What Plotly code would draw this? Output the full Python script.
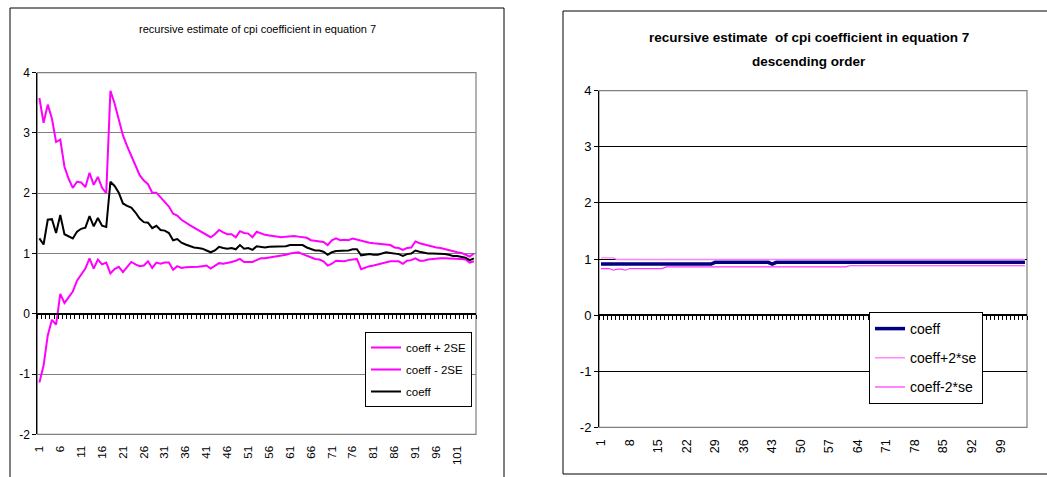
import plotly.graph_objects as go

W, H = 1047, 477

# ---------------- data ----------------
periods = list(range(1, 106))

left_upper = [
    3.58, 3.17, 3.47, 3.24, 2.85, 2.89, 2.44, 2.24, 2.09, 2.19,
    2.18, 2.10, 2.34, 2.14, 2.27, 2.09, 2.00, 3.70, 3.49, 3.21,
    2.96, 2.78, 2.63, 2.46, 2.30, 2.21, 2.15, 2.01, 2.01, 1.93,
    1.85, 1.78, 1.66, 1.63, 1.56, 1.51, 1.47, 1.43, 1.39, 1.35,
    1.32, 1.27, 1.32, 1.39, 1.35, 1.32, 1.32, 1.27, 1.37, 1.34,
    1.33, 1.27, 1.36, 1.33, 1.31, 1.30, 1.29, 1.28, 1.27, 1.28,
    1.29, 1.29, 1.28, 1.27, 1.26, 1.22, 1.21, 1.20, 1.19, 1.14,
    1.22, 1.25, 1.22, 1.23, 1.22, 1.25, 1.23, 1.21, 1.20, 1.18,
    1.17, 1.16, 1.15, 1.15, 1.14, 1.10, 1.09, 1.06, 1.09, 1.10,
    1.20, 1.17, 1.15, 1.14, 1.12, 1.10, 1.09, 1.07, 1.05, 1.03,
    1.02, 1.01, 0.98, 0.95, 1.00,
]

left_lower = [
    -1.14, -0.86, -0.36, -0.10, -0.18, 0.33, 0.18, 0.28, 0.37, 0.55,
    0.65, 0.75, 0.92, 0.75, 0.90, 0.82, 0.85, 0.67, 0.74, 0.78,
    0.69, 0.78, 0.86, 0.82, 0.79, 0.80, 0.87, 0.76, 0.85, 0.83,
    0.85, 0.85, 0.73, 0.79, 0.76, 0.77, 0.77, 0.78, 0.78, 0.79,
    0.80, 0.75, 0.79, 0.84, 0.83, 0.84, 0.86, 0.88, 0.91, 0.86,
    0.86, 0.86, 0.89, 0.92, 0.92, 0.93, 0.95, 0.96, 0.97, 0.98,
    1.00, 1.01, 1.02, 0.99, 0.96, 0.93, 0.91, 0.90, 0.87, 0.80,
    0.83, 0.88, 0.87, 0.87, 0.89, 0.90, 0.91, 0.74, 0.77, 0.79,
    0.80, 0.82, 0.84, 0.86, 0.87, 0.87, 0.87, 0.83, 0.88, 0.89,
    0.92, 0.88, 0.88, 0.90, 0.91, 0.91, 0.92, 0.92, 0.92, 0.92,
    0.91, 0.91, 0.90, 0.85, 0.87,
]

left_coeff = [
    1.25, 1.15, 1.56, 1.57, 1.34, 1.64, 1.32, 1.28, 1.25, 1.36,
    1.41, 1.43, 1.62, 1.45, 1.59, 1.46, 1.44, 2.19, 2.12, 2.01,
    1.83, 1.79, 1.76, 1.68, 1.58, 1.52, 1.51, 1.42, 1.46, 1.39,
    1.38, 1.34, 1.22, 1.24, 1.18, 1.15, 1.12, 1.10, 1.09, 1.08,
    1.05, 1.02, 1.05, 1.11, 1.09, 1.08, 1.09, 1.07, 1.14, 1.08,
    1.09, 1.06, 1.12, 1.11, 1.10, 1.11, 1.11, 1.12, 1.12, 1.12,
    1.14, 1.14, 1.14, 1.14, 1.10, 1.07, 1.05, 1.05, 1.03, 0.98,
    1.02, 1.04, 1.04, 1.04, 1.05, 1.07, 1.07, 0.97, 0.98, 0.99,
    0.98, 0.98, 1.00, 1.02, 1.01, 1.00, 0.99, 0.96, 0.99, 1.00,
    1.05, 1.03, 1.01, 1.00, 1.00, 1.00, 1.00, 0.99, 0.98, 0.96,
    0.96, 0.95, 0.93, 0.89, 0.92,
]

right_coeff = [
    0.91, 0.91, 0.91, 0.91, 0.91, 0.91, 0.91, 0.91, 0.91, 0.91,
    0.91, 0.91, 0.91, 0.91, 0.91, 0.91, 0.91, 0.91, 0.91, 0.91,
    0.91, 0.91, 0.91, 0.91, 0.91, 0.91, 0.91, 0.91, 0.94, 0.94,
    0.94, 0.94, 0.94, 0.94, 0.94, 0.94, 0.94, 0.94, 0.94, 0.94,
    0.94, 0.94, 0.91, 0.94, 0.94, 0.94, 0.94, 0.94, 0.94, 0.94,
    0.94, 0.94, 0.94, 0.94, 0.94, 0.94, 0.94, 0.94, 0.94, 0.94,
    0.94, 0.94, 0.94, 0.94, 0.94, 0.94, 0.94, 0.94, 0.94, 0.94,
    0.94, 0.94, 0.94, 0.94, 0.94, 0.94, 0.94, 0.94, 0.94, 0.94,
    0.94, 0.94, 0.94, 0.94, 0.94, 0.94, 0.94, 0.94, 0.94, 0.94,
    0.94, 0.94, 0.94, 0.94, 0.94, 0.94, 0.94, 0.94, 0.94, 0.94,
    0.94, 0.94, 0.94, 0.94, 0.94,
]

right_upper = [
    1.02, 1.02, 1.02, 1.02, 0.99, 0.99, 0.99, 0.99, 0.99, 0.99,
    0.99, 0.99, 0.99, 0.99, 0.99, 0.99, 0.99, 0.99, 0.99, 0.99,
    0.99, 0.99, 0.99, 0.99, 0.99, 0.99, 0.99, 0.99, 0.99, 0.99,
    0.99, 0.99, 0.99, 0.99, 0.99, 0.99, 0.99, 0.99, 0.99, 0.99,
    0.99, 0.99, 0.99, 0.99, 0.99, 0.99, 0.99, 0.99, 0.99, 0.99,
    0.99, 0.99, 0.99, 0.99, 0.99, 0.99, 0.99, 0.99, 0.99, 0.99,
    0.99, 0.99, 0.99, 0.99, 0.99, 0.99, 0.99, 0.99, 0.99, 0.99,
    0.99, 0.99, 0.99, 0.99, 0.99, 0.99, 0.99, 0.99, 0.99, 0.99,
    0.99, 0.99, 0.99, 0.99, 0.99, 0.99, 0.99, 0.99, 0.99, 0.99,
    0.99, 0.99, 0.99, 0.99, 0.99, 0.99, 0.99, 0.99, 0.99, 0.99,
    0.99, 0.99, 0.99, 0.99, 0.99,
]

right_lower = [
    0.83, 0.83, 0.83, 0.80, 0.82, 0.82, 0.80, 0.83, 0.83, 0.83,
    0.83, 0.83, 0.83, 0.83, 0.83, 0.83, 0.86, 0.86, 0.86, 0.86,
    0.86, 0.86, 0.86, 0.86, 0.86, 0.86, 0.86, 0.86, 0.86, 0.86,
    0.86, 0.86, 0.86, 0.86, 0.86, 0.86, 0.86, 0.86, 0.86, 0.86,
    0.86, 0.86, 0.86, 0.86, 0.86, 0.86, 0.86, 0.86, 0.86, 0.86,
    0.86, 0.86, 0.86, 0.86, 0.86, 0.86, 0.86, 0.86, 0.86, 0.86,
    0.86, 0.88, 0.88, 0.88, 0.88, 0.88, 0.88, 0.88, 0.88, 0.88,
    0.88, 0.88, 0.88, 0.88, 0.88, 0.88, 0.88, 0.88, 0.88, 0.88,
    0.88, 0.88, 0.88, 0.88, 0.88, 0.88, 0.88, 0.88, 0.88, 0.88,
    0.88, 0.88, 0.88, 0.88, 0.88, 0.88, 0.88, 0.88, 0.88, 0.88,
    0.88, 0.88, 0.88, 0.88, 0.88,
]

left_tick_labels = [1, 6, 11, 16, 21, 26, 31, 36, 41, 46, 51, 56, 61, 66, 71, 76, 81, 86, 91, 96, 101]
right_tick_labels = [1, 8, 15, 22, 29, 36, 43, 50, 57, 64, 71, 78, 85, 92, 99]
y_ticks = [-2, -1, 0, 1, 2, 3, 4]

left_title = "recursive estimate of cpi coefficient in equation 7"
right_title_1 = "recursive estimate  of cpi coefficient in equation 7"
right_title_2 = "descending order"

# ---------------- layout geometry ----------------
FONT = "Liberation Sans, Arial, sans-serif"

def px_x(p):
    return p / W

def px_y(p):
    return 1 - p / H

L_dom_x = [px_x(37.3), px_x(476)]
L_dom_y = [px_y(434.3), px_y(72.7)]
R_dom_x = [px_x(599), px_x(1027)]
R_dom_y = [px_y(427.3), px_y(90.7)]

YR = [-2, 4]
XR = [0.5, len(periods) + 0.5]

def zero_pos(dom):
    return dom[0] + (0 - YR[0]) / (YR[1] - YR[0]) * (dom[1] - dom[0])

fig = go.Figure()

# left chart traces
fig.add_trace(go.Scatter(x=periods, y=left_upper, mode="lines", name="coeff + 2SE",
                         line=dict(color="#FF00FF", width=2), xaxis="x", yaxis="y",
                         legend="legend", legendgroup="a", legendrank=1))
fig.add_trace(go.Scatter(x=periods, y=left_lower, mode="lines", name="coeff - 2SE",
                         line=dict(color="#FF00FF", width=2), xaxis="x", yaxis="y",
                         legend="legend", legendgroup="b", legendrank=2))
fig.add_trace(go.Scatter(x=periods, y=left_coeff, mode="lines", name="coeff",
                         line=dict(color="#000000", width=2), xaxis="x", yaxis="y",
                         legend="legend", legendgroup="c", legendrank=3))

# right chart traces
fig.add_trace(go.Scatter(x=periods, y=right_coeff, mode="lines", name="coeff",
                         line=dict(color="#000080", width=3.5), xaxis="x2", yaxis="y2",
                         legend="legend2", legendgroup="d", legendrank=1))
fig.add_trace(go.Scatter(x=periods, y=right_upper, mode="lines", name="coeff+2*se",
                         line=dict(color="#FF80FF", width=1.4), xaxis="x2", yaxis="y2",
                         legend="legend2", legendgroup="e", legendrank=2))
fig.add_trace(go.Scatter(x=periods, y=right_lower, mode="lines", name="coeff-2*se",
                         line=dict(color="#FF33FF", width=1.2), xaxis="x2", yaxis="y2",
                         legend="legend2", legendgroup="f", legendrank=3))

# helper traces for the tick-mark axes lying on y = 0
fig.add_trace(go.Scatter(x=[periods[0]], y=[None], mode="lines", xaxis="x3", yaxis="y",
                         showlegend=False, hoverinfo="skip"))
fig.add_trace(go.Scatter(x=[periods[0]], y=[None], mode="lines", xaxis="x4", yaxis="y2",
                         showlegend=False, hoverinfo="skip"))

tickfont = dict(family=FONT, size=12, color="#000000")

common_x = dict(range=XR, showgrid=False, zeroline=False, fixedrange=True,
                tickmode="array", tickangle=-90, ticks="outside", ticklen=6,
                tickcolor="rgba(0,0,0,0)", showline=False, automargin=False)
common_y = dict(range=YR, tickmode="array", tickvals=y_ticks, ticktext=[str(v) for v in y_ticks],
                showgrid=True, gridwidth=1, zeroline=False, showline=True, linecolor="#000000",
                linewidth=1, ticks="outside", ticklen=4, tickcolor="#000000", fixedrange=True,
                automargin=False)

fig.update_layout(
    width=W, height=H, autosize=False,
    margin=dict(l=0, r=0, t=0, b=0, pad=0, autoexpand=False),
    paper_bgcolor="#FFFFFF", plot_bgcolor="#FFFFFF",
    font=dict(family=FONT, color="#000000"),
    hovermode=False,
    xaxis=dict(domain=L_dom_x, anchor="y", tickvals=left_tick_labels,
               ticktext=[str(v) for v in left_tick_labels], tickfont=dict(family=FONT, size=11.5, color="#000"),
               **common_x),
    yaxis=dict(domain=L_dom_y, anchor="x", gridcolor="#808080", tickfont=tickfont, **common_y),
    xaxis2=dict(domain=R_dom_x, anchor="y2", tickvals=right_tick_labels,
                ticktext=[str(v) for v in right_tick_labels], tickfont=dict(family=FONT, size=12.5, color="#000"),
                **common_x),
    yaxis2=dict(domain=R_dom_y, anchor="x2", gridcolor="#000000",
                tickfont=dict(family=FONT, size=13, color="#000"), **common_y),
    xaxis3=dict(overlaying="x", anchor="free", position=zero_pos(L_dom_y), range=XR,
                tickmode="linear", tick0=0.5, dtick=1, ticks="outside", ticklen=4,
                tickcolor="#000000", showticklabels=False, showline=True, linecolor="#000000",
                linewidth=1.5, showgrid=False, zeroline=False, fixedrange=True, automargin=False),
    xaxis4=dict(overlaying="x2", anchor="free", position=zero_pos(R_dom_y), range=XR,
                tickmode="linear", tick0=0.5, dtick=1, ticks="outside", ticklen=4,
                tickcolor="#000000", showticklabels=False, showline=True, linecolor="#000000",
                linewidth=1.5, showgrid=False, zeroline=False, fixedrange=True, automargin=False),
    legend=dict(x=px_x(365), y=px_y(332), xanchor="left", yanchor="top",
                bgcolor="#FFFFFF", bordercolor="#000000", borderwidth=1,
                font=dict(family=FONT, size=11.5, color="#000"), tracegroupgap=3,
                itemwidth=30),
    legend2=dict(x=px_x(869), y=px_y(312), xanchor="left", yanchor="top",
                 bgcolor="#FFFFFF", bordercolor="#000000", borderwidth=1,
                 font=dict(family=FONT, size=14, color="#000"), tracegroupgap=8,
                 itemwidth=30),
    showlegend=True,
)

shapes = [
    # outer frames
    dict(type="rect", xref="paper", yref="paper", x0=px_x(10), x1=px_x(504), y0=px_y(482), y1=px_y(8),
         line=dict(color="#000000", width=1), fillcolor="rgba(0,0,0,0)", layer="below"),
    dict(type="rect", xref="paper", yref="paper", x0=px_x(563), x1=px_x(1052), y0=px_y(474), y1=px_y(11),
         line=dict(color="#000000", width=1), fillcolor="rgba(0,0,0,0)", layer="below"),
    # plot-area borders
    dict(type="rect", xref="x domain", yref="y domain", x0=0, x1=1, y0=0, y1=1,
         line=dict(color="#808080", width=1.2), fillcolor="rgba(0,0,0,0)", layer="below"),
    dict(type="rect", xref="x2 domain", yref="y2 domain", x0=0, x1=1, y0=0, y1=1,
         line=dict(color="#808080", width=1.2), fillcolor="rgba(0,0,0,0)", layer="below"),
]

annotations = [
    dict(text=left_title, xref="paper", yref="paper", x=px_x(257), y=px_y(29),
         xanchor="center", yanchor="middle", showarrow=False,
         font=dict(family=FONT, size=11, color="#000")),
    dict(text=right_title_1, xref="paper", yref="paper", x=px_x(809), y=px_y(37),
         xanchor="center", yanchor="middle", showarrow=False,
         font=dict(family=FONT, size=13.5, color="#000", weight="bold")),
    dict(text=right_title_2, xref="paper", yref="paper", x=px_x(809), y=px_y(61),
         xanchor="center", yanchor="middle", showarrow=False,
         font=dict(family=FONT, size=13.5, color="#000", weight="bold")),
]

fig.update_layout(shapes=shapes, annotations=annotations)

fig.write_html(
    "out.html",
    config={"displayModeBar": False, "staticPlot": False},
    post_script="document.body.style.margin='0px';document.body.style.padding='0px';"
                "document.documentElement.style.overflow='hidden';document.body.style.overflow='hidden';",
)
